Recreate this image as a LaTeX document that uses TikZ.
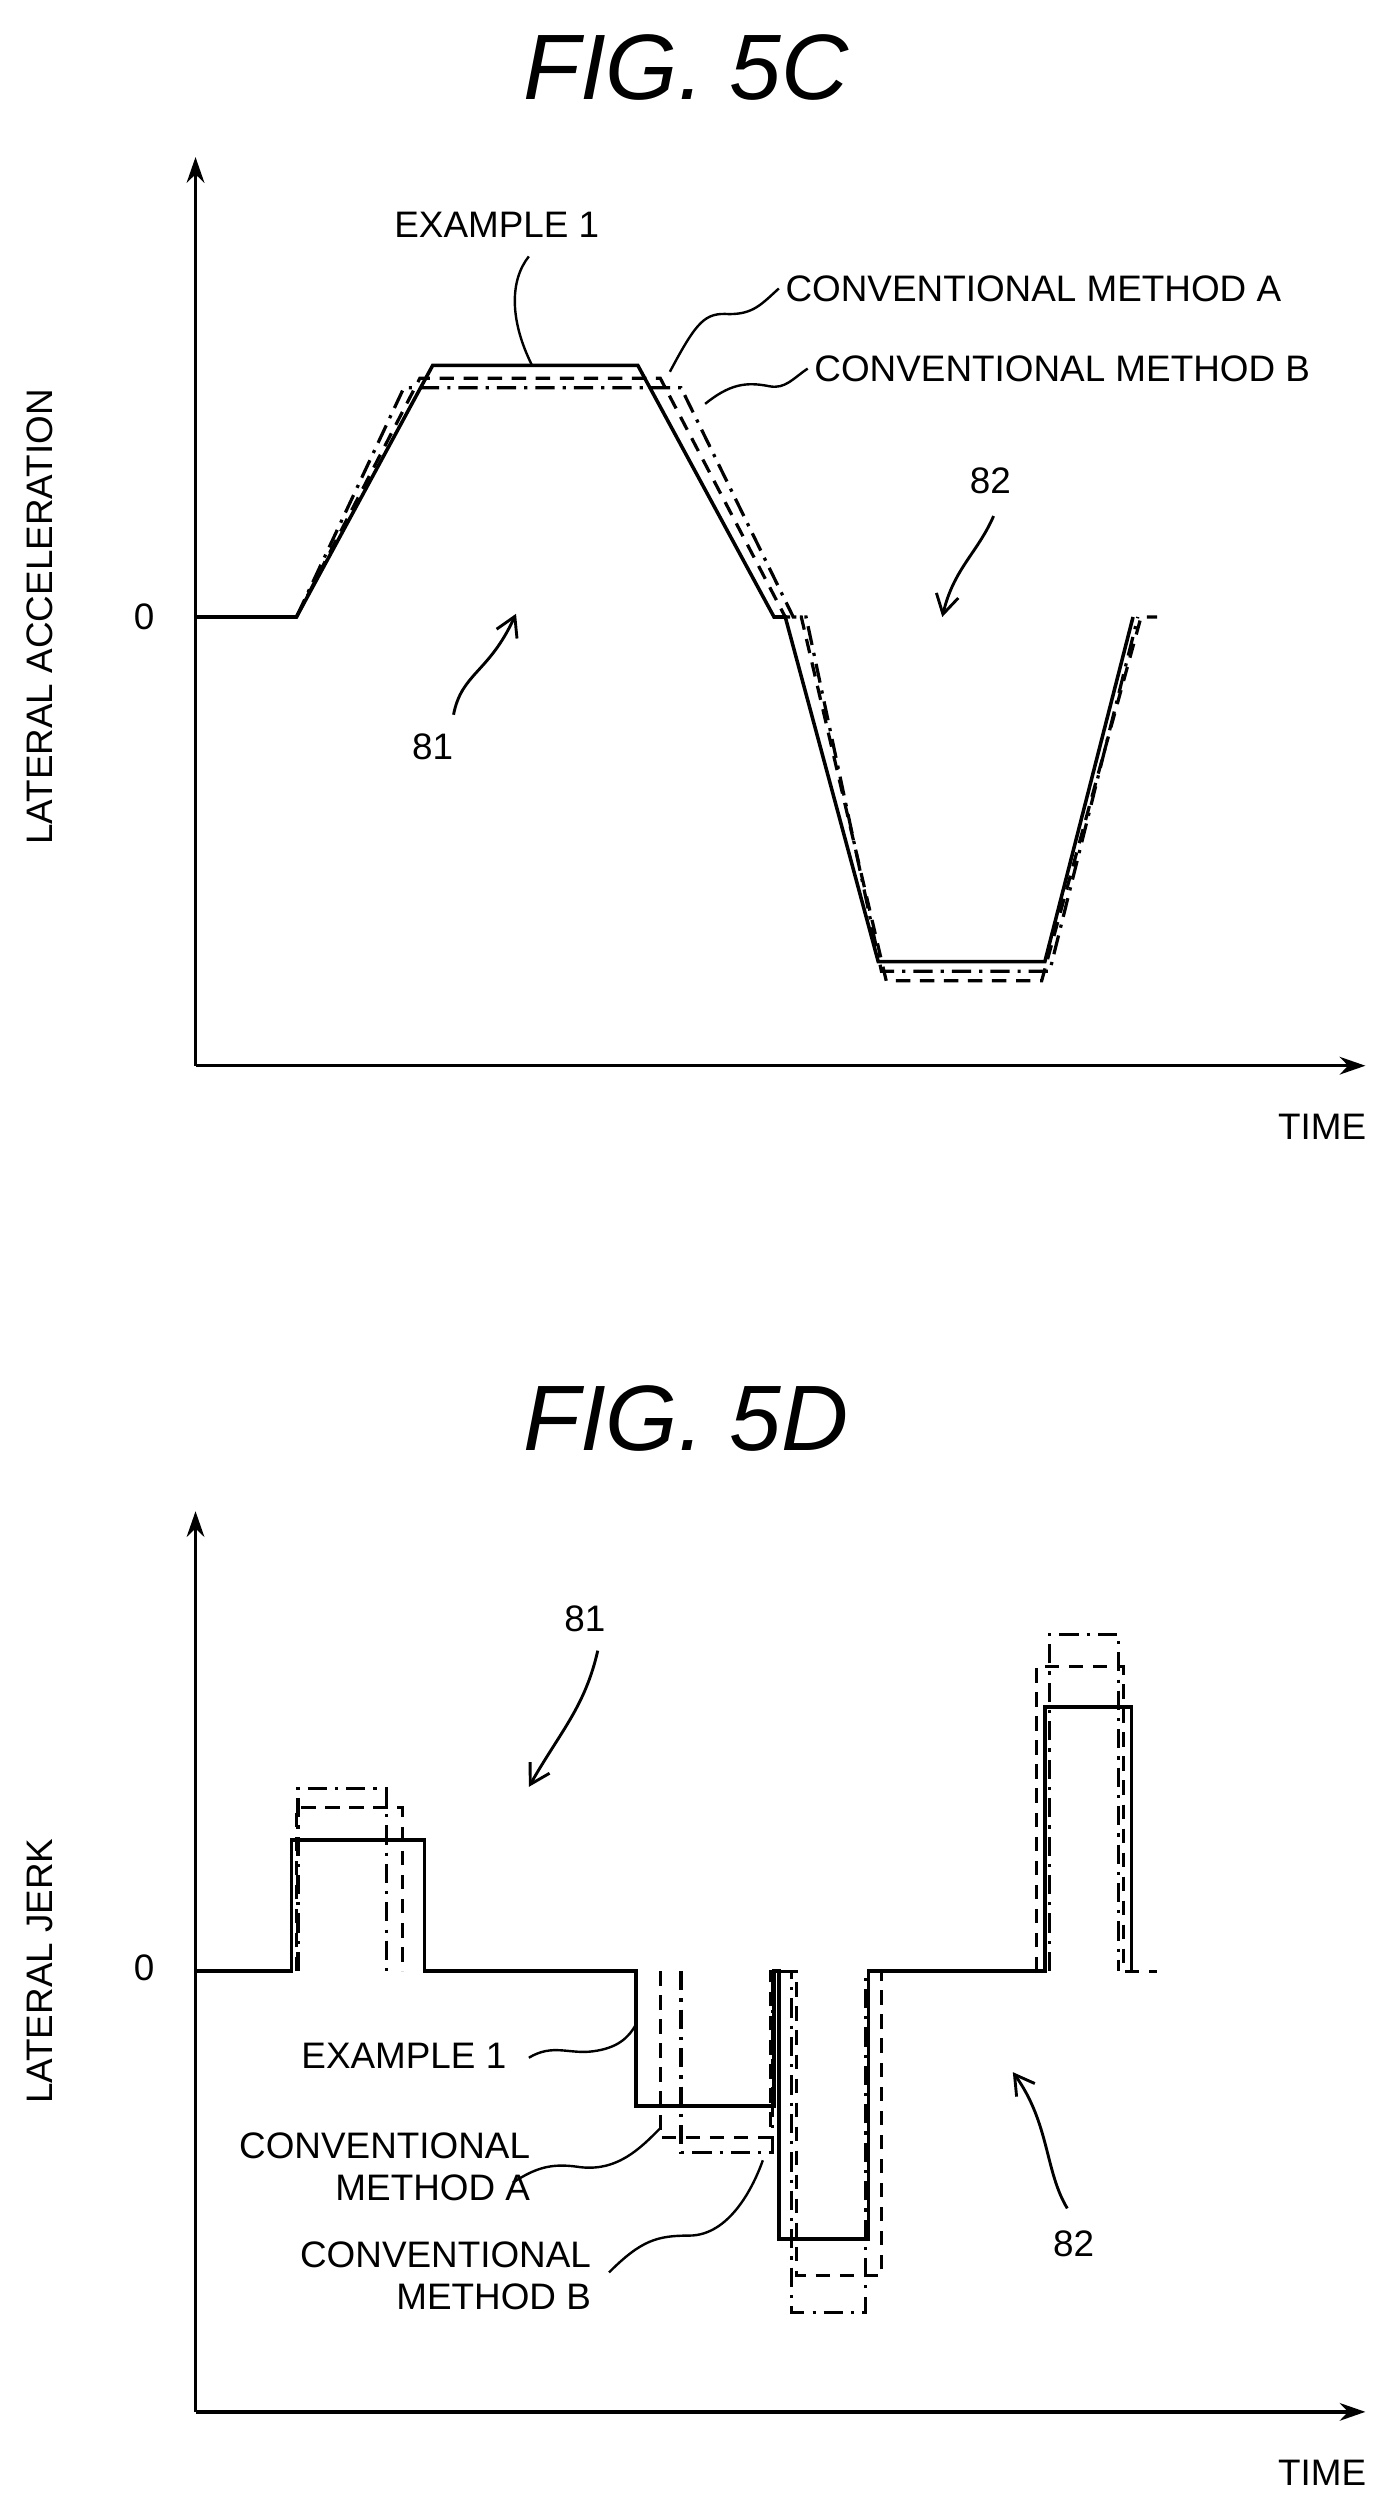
\documentclass[tikz,border=0pt]{standalone}
\usepackage{fontspec}
\setmainfont{Liberation Sans}
\usetikzlibrary{arrows.meta}
\begin{document}
\begin{tikzpicture}[x=1pt,y=-1pt,
  lbl/.style={font=\fontsize{23}{26}\selectfont,inner sep=0pt},
  ttl/.style={font=\fontsize{58}{60}\selectfont\itshape,inner sep=0pt},
  ax/.style={line width=2.2pt,-{Stealth[length=16pt,width=11pt]}},
  ex/.style={line width=2.2pt},
  ca/.style={line width=2pt,dash pattern=on 9pt off 6pt},
  cb/.style={line width=2pt,dash pattern=on 12pt off 5pt on 2pt off 5pt},
  ld/.style={line width=1.5pt},
  la/.style={line width=1.8pt,-{Straight Barb[length=12pt,width=14pt]}}]
\useasboundingbox (0,0) rectangle (860,1560);
% ---------- FIG 5C ----------
\node[ttl] (t1) at (428,42) {FIG. 5C};
\coordinate (o1) at (122,665);
\coordinate (y1) at (122,98);
\coordinate (x1) at (852,665);
\draw[ax] (o1) -- (y1);
\draw[ax] (o1) -- (x1);
\node[lbl] (time1) at (825,703) {TIME};
\node[lbl,rotate=90] (yl1) at (25,385) {LATERAL ACCELERATION};
\node[lbl] (z1) at (90,385) {0};
\draw[ex] (122,385)--(185,385)--(270,228)--(398,228)--(483,385)--(490,385)--(548,600)--(652,600)--(707,385);
\draw[ca] (185,385)--(262,236)--(412,236)--(490,385)--(500,385)--(553,612)--(650,612)--(712,385)--(722,385);
\draw[cb] (185,385)--(252,242)--(425,242)--(495,385)--(503,385)--(550,606)--(655,606)--(710,385);
\node[lbl] (e1) at (310,140) {EXAMPLE 1};
\node[lbl,anchor=west] (a1) at (490,180) {CONVENTIONAL METHOD A};
\node[lbl,anchor=west] (b1) at (508,230) {CONVENTIONAL METHOD B};
\node[lbl] (n82a) at (618,300) {82};
\node[lbl] (n81a) at (270,466) {81};
\coordinate (e1p) at (332,228);
\draw[ld] (e1p) .. controls (318,200) and (318,175) .. (330,160);
\coordinate (a1p) at (418,232);
\draw[ld] (a1p) .. controls (435,200) and (440,195) .. (455,196) .. controls (470,196) and (475,190) .. (486,180);
\coordinate (b1p) at (440,252);
\draw[ld] (b1p) .. controls (455,240) and (465,238) .. (480,241) .. controls (490,243) and (495,236) .. (504,230);
\draw[la] (620,322) .. controls (610,345) and (595,355) .. (588,385);
\draw[la] (283,446) .. controls (288,420) and (305,420) .. (322,383);
% ---------- FIG 5D ----------
\node[ttl] (t2) at (428,885) {FIG. 5D};
\coordinate (o2) at (122,1505);
\coordinate (y2) at (122,943);
\coordinate (x2) at (852,1505);
\draw[ax] (o2) -- (y2);
\draw[ax] (o2) -- (x2);
\node[lbl] (time2) at (825,1543) {TIME};
\node[lbl,rotate=90] (yl2) at (25,1230) {LATERAL JERK};
\node[lbl] (z2) at (90,1228) {0};
\draw[ex] (122,1230)--(182,1230)--(182,1148)--(265,1148)--(265,1230)--(397,1230)--(397,1314)--(483,1314)--(483,1230)--(486,1230)--(486,1397)--(542,1397)--(542,1230)--(652,1230)--(652,1065)--(706,1065)--(706,1230);
\draw[ca] (185,1230)--(185,1128)--(251,1128)--(251,1230);
\draw[ca] (412,1230)--(412,1334)--(481,1334)--(481,1230)--(497,1230)--(497,1420)--(550,1420)--(550,1230);
\draw[ca] (647,1230)--(647,1040)--(701,1040)--(701,1230)--(722,1230);
\draw[cb] (186,1230)--(186,1116)--(241,1116)--(241,1230);
\draw[cb] (425,1230)--(425,1343)--(482,1343)--(482,1230)--(494,1230)--(494,1443)--(540,1443)--(540,1230);
\draw[cb] (655,1230)--(655,1020)--(698,1020)--(698,1230);
\node[lbl] (n81b) at (365,1010) {81};
\draw[la] (373,1030) .. controls (365,1065) and (350,1080) .. (330,1115);
\node[lbl] (e2) at (252,1283) {EXAMPLE 1};
\node[lbl,align=right] (a2) at (240,1352) {CONVENTIONAL\\METHOD A};
\node[lbl,align=right] (b2) at (278,1420) {CONVENTIONAL\\METHOD B};
\draw[ld] (330,1284) .. controls (345,1275) and (355,1282) .. (370,1280) .. controls (385,1278) and (392,1272) .. (397,1263);
\draw[ld] (320,1362) .. controls (335,1352) and (345,1350) .. (360,1352) .. controls (385,1356) and (400,1340) .. (412,1328);
\draw[ld] (380,1418) .. controls (400,1398) and (410,1395) .. (430,1395) .. controls (455,1395) and (470,1365) .. (476,1348);
\node[lbl] (n82b) at (670,1400) {82};
\draw[la] (666,1378) .. controls (652,1355) and (655,1325) .. (632,1293);
\end{tikzpicture}
\end{document}
